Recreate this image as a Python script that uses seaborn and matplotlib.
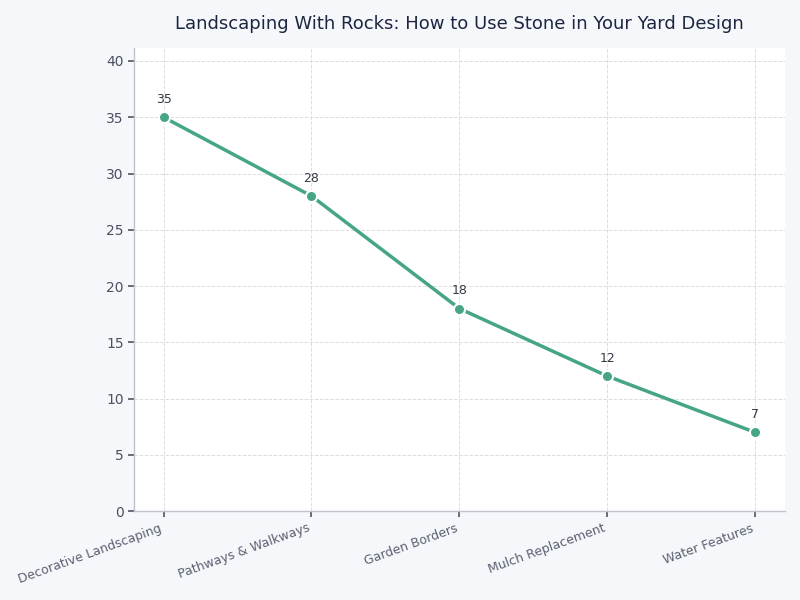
import matplotlib
matplotlib.use("Agg")
import matplotlib.pyplot as plt
import pandas as pd
import seaborn as sns

categories = [
    "Decorative Landscaping",
    "Pathways & Walkways",
    "Garden Borders",
    "Mulch Replacement",
    "Water Features",
]
usage = [35, 28, 18, 12, 7]

LINE_COLOR = "#46a684"
BG = "#f5f7fb"

sns.set_theme(style="whitegrid")
plt.rcParams["font.family"] = ["DejaVu Sans"]

df = pd.DataFrame({"category": categories, "usage": usage})

fig = plt.figure(figsize=(8, 6), dpi=100, facecolor=BG)
ax = fig.add_axes([0.1675, 0.148, 0.8135, 0.772])
ax.set_facecolor("white")

sns.lineplot(
    data=df,
    x="category",
    y="usage",
    sort=False,
    color=LINE_COLOR,
    linewidth=2.5,
    marker="o",
    markersize=8,
    markeredgecolor="white",
    markeredgewidth=1.5,
    ax=ax,
)

for i, v in enumerate(usage):
    ax.annotate(str(v), (i, v), xytext=(0, 8), textcoords="offset points",
                ha="center", va="bottom", fontsize=9, color="#333a45")

ax.set_xlim(-0.2, 4.2)
ax.set_ylim(0, 41.15)
ax.set_yticks(range(0, 41, 5))
ax.set_xlabel("")
ax.set_ylabel("")
ax.set_title("Landscaping With Rocks: How to Use Stone in Your Yard Design",
             fontsize=13, color="#1c2640", pad=14)

ax.grid(True, linestyle="--", color="#dddddd", linewidth=0.7)
for side in ["top", "right"]:
    ax.spines[side].set_visible(False)
for side in ["left", "bottom"]:
    ax.spines[side].set_color("#bfc3cc")
    ax.spines[side].set_linewidth(1)

ax.tick_params(axis="both", which="both", length=4, color="#555b66",
               bottom=True, left=True)
ax.tick_params(axis="y", labelsize=10, labelcolor="#4a5060")
ax.tick_params(axis="x", labelsize=9, labelcolor="#5a6070")
plt.setp(ax.get_xticklabels(), rotation=20, ha="right")

fig.savefig("out.png", dpi=100, facecolor=BG)
